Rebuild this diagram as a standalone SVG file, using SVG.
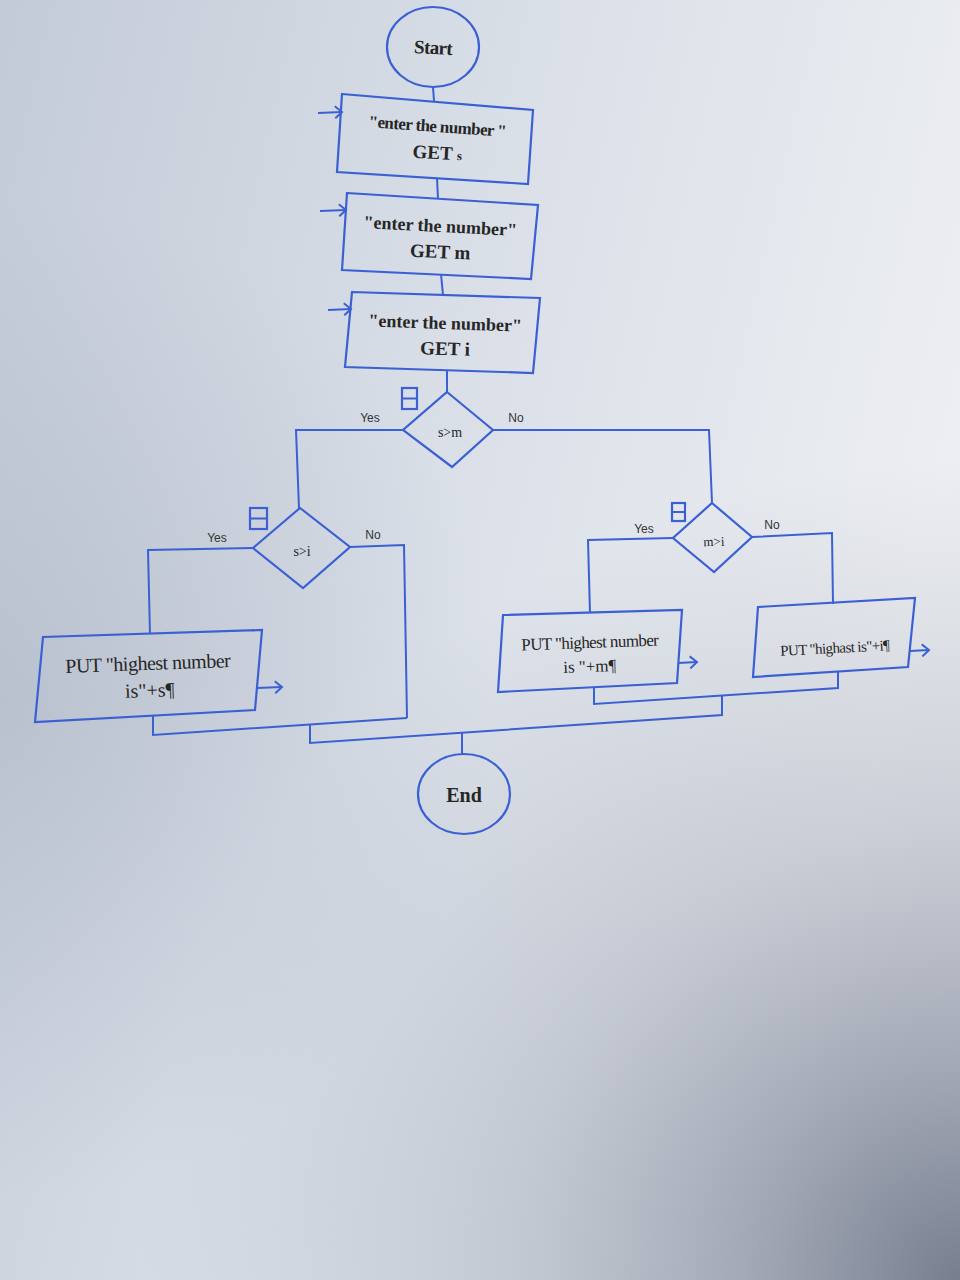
<svg xmlns="http://www.w3.org/2000/svg" width="960" height="1280" viewBox="0 0 960 1280">
  <defs>
    <linearGradient id="bg" x1="0" y1="0" x2="1" y2="0.3">
      <stop offset="0" stop-color="#c3cbd7"/>
      <stop offset="0.6" stop-color="#dde2ea"/>
      <stop offset="1" stop-color="#eceef1"/>
    </linearGradient>
    <radialGradient id="shade" cx="960" cy="1280" r="820" gradientUnits="userSpaceOnUse">
      <stop offset="0" stop-color="#6a7284" stop-opacity="0.9"/>
      <stop offset="0.55" stop-color="#8a92a4" stop-opacity="0.35"/>
      <stop offset="1" stop-color="#9aa2b2" stop-opacity="0"/>
    </radialGradient>
    <radialGradient id="shadeL" cx="0" cy="700" r="500" gradientUnits="userSpaceOnUse">
      <stop offset="0" stop-color="#a9b2c2" stop-opacity="0.5"/>
      <stop offset="1" stop-color="#a9b2c2" stop-opacity="0"/>
    </radialGradient>
    <marker id="open" markerWidth="12" markerHeight="14" refX="9" refY="7" orient="auto" markerUnits="userSpaceOnUse">
      <path d="M2,1 L9,7 L2,13" fill="none" stroke="#3a60d4" stroke-width="2"/>
    </marker>
    <style>
      .shape { fill: none; stroke: #3a60d4; stroke-width: 2.2; }
      .line { fill: none; stroke: #3a60d4; stroke-width: 2; }
      .txt { font-family: "Liberation Serif", "DejaVu Serif", serif; fill: #262626; text-anchor: middle; }
      .lbl { font-family: "Liberation Sans", Arial, sans-serif; fill: #333; font-size: 12px; text-anchor: middle; }
    </style>
  </defs>

  <!-- screen background -->
  <rect width="960" height="1280" fill="url(#bg)"/>
  <rect width="960" height="1280" fill="url(#shadeL)"/>
  <rect width="960" height="1280" fill="url(#shade)"/>

  <!-- connectors -->
  <g id="connectors">
    <line class="line" x1="433" y1="87" x2="434" y2="101"/>
    <line class="line" x1="437" y1="178" x2="438" y2="199"/>
    <line class="line" x1="441" y1="274" x2="443" y2="295"/>
    <line class="line" x1="447" y1="370" x2="447" y2="392"/>
    <!-- s>m branches -->
    <polyline class="line" points="403,430 296,430 299,508"/>
    <polyline class="line" points="493,430 709,430 712,503"/>
    <!-- s>i branches -->
    <polyline class="line" points="253,548 148,550 150,634"/>
    <polyline class="line" points="350,547 404,545 407,718"/>
    <!-- m>i branches -->
    <polyline class="line" points="673,538 588,540 590,613"/>
    <polyline class="line" points="752,537 832,533 833,604"/>
    <!-- merges -->
    <polyline class="line" points="153,716 153,735 407,718"/>
    <polyline class="line" points="310,725 310,743 722,715 722,696"/>
    <polyline class="line" points="594,687 594,704 838,688 838,671"/>
    <line class="line" x1="462" y1="733" x2="462" y2="754"/>
    <!-- input arrows -->
    <line class="line" x1="318" y1="113" x2="342" y2="112" marker-end="url(#open)"/>
    <line class="line" x1="320" y1="211" x2="346" y2="210" marker-end="url(#open)"/>
    <line class="line" x1="328" y1="310" x2="351" y2="309" marker-end="url(#open)"/>
    <!-- output arrows -->
    <line class="line" x1="257" y1="688" x2="282" y2="687" marker-end="url(#open)"/>
    <line class="line" x1="678" y1="663" x2="697" y2="662" marker-end="url(#open)"/>
    <line class="line" x1="910" y1="651" x2="929" y2="650" marker-end="url(#open)"/>
  </g>

  <g id="start">
    <ellipse class="shape" cx="433" cy="47" rx="46" ry="40"/>
    <text class="txt" x="433" y="54" font-size="19" font-weight="bold" letter-spacing="-0.6" transform="rotate(3 433 50)">Start</text>
  </g>

  <g id="input-s">
    <polygon class="shape" points="342,94 533,110 528,184 337,172"/>
    <text class="txt" x="437" y="132" font-size="17" font-weight="bold" transform="rotate(4 437 132)" letter-spacing="-0.6">"enter the number "</text>
    <text class="txt" x="437" y="159" font-size="19" font-weight="bold" transform="rotate(3 437 159)">GET <tspan font-size="13">s</tspan></text>
  </g>

  <g id="input-m">
    <polygon class="shape" points="347,193 538,205 531,279 342,270"/>
    <text class="txt" x="440" y="232" font-size="18" font-weight="bold" transform="rotate(3 440 232)">"enter the number"</text>
    <text class="txt" x="440" y="258" font-size="19" font-weight="bold" transform="rotate(2.5 440 258)">GET m</text>
  </g>

  <g id="input-i">
    <polygon class="shape" points="352,292 540,298 533,373 345,367"/>
    <text class="txt" x="445" y="329" font-size="18" font-weight="bold" transform="rotate(2 445 329)">"enter the number"</text>
    <text class="txt" x="445" y="355" font-size="19" font-weight="bold" transform="rotate(1.5 445 355)">GET i</text>
  </g>

  <g id="decision-s-m">
    <polygon class="shape" points="447,392 493,430 452,467 403,430"/>
    <text class="txt" x="450" y="437" font-size="14">s&gt;m</text>
    <rect class="shape" x="402" y="388" width="15" height="21" stroke-width="2"/>
    <line class="line" x1="402" y1="398.5" x2="417" y2="398.5"/>
    <text class="lbl" x="370" y="422">Yes</text>
    <text class="lbl" x="516" y="422">No</text>
  </g>

  <g id="decision-s-i">
    <polygon class="shape" points="300,508 350,547 303,588 253,548"/>
    <text class="txt" x="302" y="556" font-size="14">s&gt;i</text>
    <rect class="shape" x="250" y="508" width="17" height="21" stroke-width="2"/>
    <line class="line" x1="250" y1="518.5" x2="267" y2="518.5"/>
    <text class="lbl" x="217" y="542">Yes</text>
    <text class="lbl" x="373" y="539">No</text>
  </g>

  <g id="decision-m-i">
    <polygon class="shape" points="712,503 752,537 714,572 673,538"/>
    <text class="txt" x="714" y="546" font-size="13" transform="rotate(-2 714 546)">m&gt;i</text>
    <rect class="shape" x="672" y="503" width="13" height="18" stroke-width="2"/>
    <line class="line" x1="672" y1="512" x2="685" y2="512"/>
    <text class="lbl" x="644" y="533" font-size="11">Yes</text>
    <text class="lbl" x="772" y="529" font-size="11">No</text>
  </g>

  <g id="output-s">
    <polygon class="shape" points="43,637 262,630 255,710 35,722"/>
    <text class="txt" x="148" y="670" font-size="20" letter-spacing="-0.5" transform="rotate(-2 148 670)">PUT "highest number</text>
    <text class="txt" x="150" y="697" font-size="20" transform="rotate(-2 150 697)">is"+s¶</text>
  </g>

  <g id="output-m">
    <polygon class="shape" points="503,615 682,610 677,683 498,692"/>
    <text class="txt" x="590" y="648" font-size="17" letter-spacing="-0.6" transform="rotate(-2 590 648)">PUT "highest number</text>
    <text class="txt" x="590" y="672" font-size="17" transform="rotate(-2 590 672)">is "+m¶</text>
  </g>

  <g id="output-i">
    <polygon class="shape" points="758,607 915,598 908,667 753,677"/>
    <text class="txt" x="835" y="653" font-size="15" letter-spacing="-0.6" transform="rotate(-3 835 653)">PUT "highast is"+i¶</text>
  </g>

  <g id="end">
    <ellipse class="shape" cx="464" cy="794" rx="46" ry="40"/>
    <text class="txt" x="464" y="802" font-size="20" font-weight="bold">End</text>
  </g>
</svg>
